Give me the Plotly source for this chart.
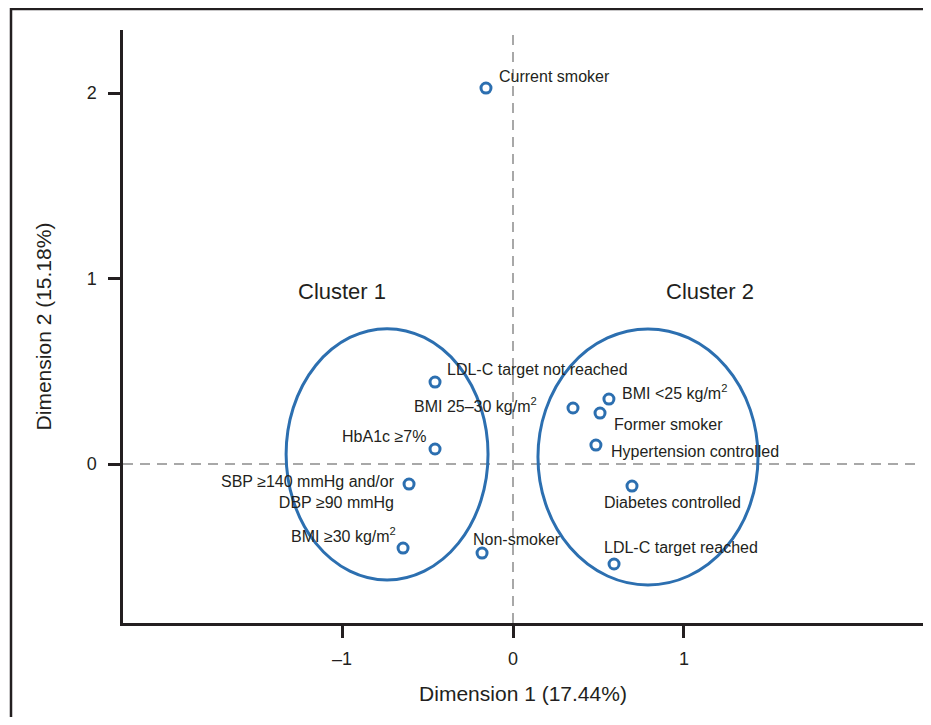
import plotly.graph_objects as go

# ---- data ----
labels = [
    "Current smoker",
    "LDL-C target not reached",
    "BMI 25–30 kg/m<sup>2</sup>",
    "HbA1c ≥7%",
    "SBP ≥140 mmHg and/or<br>DBP ≥90 mmHg",
    "BMI ≥30 kg/m<sup>2</sup>",
    "Non-smoker",
    "BMI <25 kg/m<sup>2</sup>",
    "Former smoker",
    "Hypertension controlled",
    "Diabetes controlled",
    "LDL-C target reached",
]
dim1 = [-0.158, -0.456, 0.351, -0.456, -0.608, -0.643, -0.181, 0.561, 0.509, 0.485, 0.696, 0.591]
dim2 = [2.027, 0.442, 0.302, 0.081, -0.108, -0.453, -0.480, 0.350, 0.275, 0.102, -0.119, -0.539]

cluster_names = ["Cluster 1", "Cluster 2"]
cluster_label_x = [-1.0, 1.15]
cluster_label_y = [0.93, 0.93]
# ellipse extents (x0, x1, y0, y1)
ell_x0 = [-1.327, 0.146]
ell_x1 = [-0.146, 1.433]
ell_y0 = [-0.625, -0.652]
ell_y1 = [0.730, 0.728]

x_ticks = [-1, 0, 1]
x_ticktext = ["–1", "0", "1"]
y_ticks = [0, 1, 2]

# ---- label placement (styling) ----
lab_anchor = ["left", "left", "right", "right", "right", "right", "left", "left", "left", "left", "left", "left"]
lab_dx = [11, 10, -34, -7, -12, -5, -11, 11, 12, 13, -30, -12]
lab_dy = [12, 13, 3, 13, -8, 13, 14, 7, -11, -6, -16, 17]

TXT = "#231f20"
BLUE = "#2c6fb0"
FONT = "Liberation Sans, Arial, sans-serif"

fig = go.Figure()
fig.add_trace(go.Scatter(
    x=dim1, y=dim2, mode="markers",
    marker=dict(symbol="circle-open", size=10, color=BLUE, line=dict(width=3, color=BLUE)),
    hoverinfo="skip", showlegend=False,
))

shapes = []
# outer frame: only top and left edges are visible in the reference
shapes.append(dict(type="line", xref="paper", yref="paper", x0=-0.14, x1=1.02, y0=1.0354, y1=1.0354,
                   line=dict(color=TXT, width=2.5), layer="below"))
shapes.append(dict(type="line", xref="paper", yref="paper", x0=-0.14, x1=-0.14, y0=-0.2, y1=1.0375,
                   line=dict(color=TXT, width=2.5), layer="below"))
# dashed reference lines
shapes.append(dict(type="line", xref="x", yref="paper", x0=0, x1=0, y0=0, y1=1,
                   line=dict(color="#a8a8a8", width=2, dash="10px,7px"), layer="below"))
shapes.append(dict(type="line", xref="paper", yref="y", x0=0, x1=0.995, y0=0, y1=0,
                   line=dict(color="#a8a8a8", width=2, dash="10px,7px"), layer="below"))
for i in range(2):
    shapes.append(dict(type="circle", xref="x", yref="y", x0=ell_x0[i], x1=ell_x1[i],
                       y0=ell_y0[i], y1=ell_y1[i], line=dict(color=BLUE, width=3)))

annotations = []
for i, t in enumerate(labels):
    annotations.append(dict(x=dim1[i], y=dim2[i], xref="x", yref="y", text=t, showarrow=False,
                            xanchor=lab_anchor[i], yanchor="middle", xshift=lab_dx[i], yshift=lab_dy[i],
                            align="right" if lab_anchor[i] == "right" else "left",
                            font=dict(family=FONT, size=16, color=TXT)))
for i, t in enumerate(cluster_names):
    annotations.append(dict(x=cluster_label_x[i], y=cluster_label_y[i], xref="x", yref="y", text=t,
                            showarrow=False, xanchor="center", yanchor="middle",
                            font=dict(family=FONT, size=22, color=TXT)))

fig.update_layout(
    width=915, height=709,
    margin=dict(l=115, r=0, t=22, b=94),
    paper_bgcolor="white", plot_bgcolor="white",
    shapes=shapes, annotations=annotations,
    showlegend=False,
    xaxis=dict(range=[-2.281, 2.398], tickvals=x_ticks, ticktext=x_ticktext,
               showline=True, linecolor=TXT, linewidth=2.5, ticks="outside", ticklen=12,
               tickwidth=2.5, tickcolor=TXT, showgrid=False, zeroline=False, ticklabelstandoff=6,
               tickfont=dict(family=FONT, size=18, color=TXT),
               title=dict(text="Dimension 1 (17.44%)", font=dict(family=FONT, size=21, color=TXT), standoff=18)),
    yaxis=dict(range=[-0.857, 2.340], tickvals=y_ticks,
               showline=True, linecolor=TXT, linewidth=2.5, ticks="outside", ticklen=12,
               tickwidth=2.5, tickcolor=TXT, showgrid=False, zeroline=False, ticklabelstandoff=8,
               tickfont=dict(family=FONT, size=18, color=TXT),
               title=dict(text="Dimension 2 (15.18%)", font=dict(family=FONT, size=21, color=TXT), standoff=30)),
)

fig.write_html("out.html")
